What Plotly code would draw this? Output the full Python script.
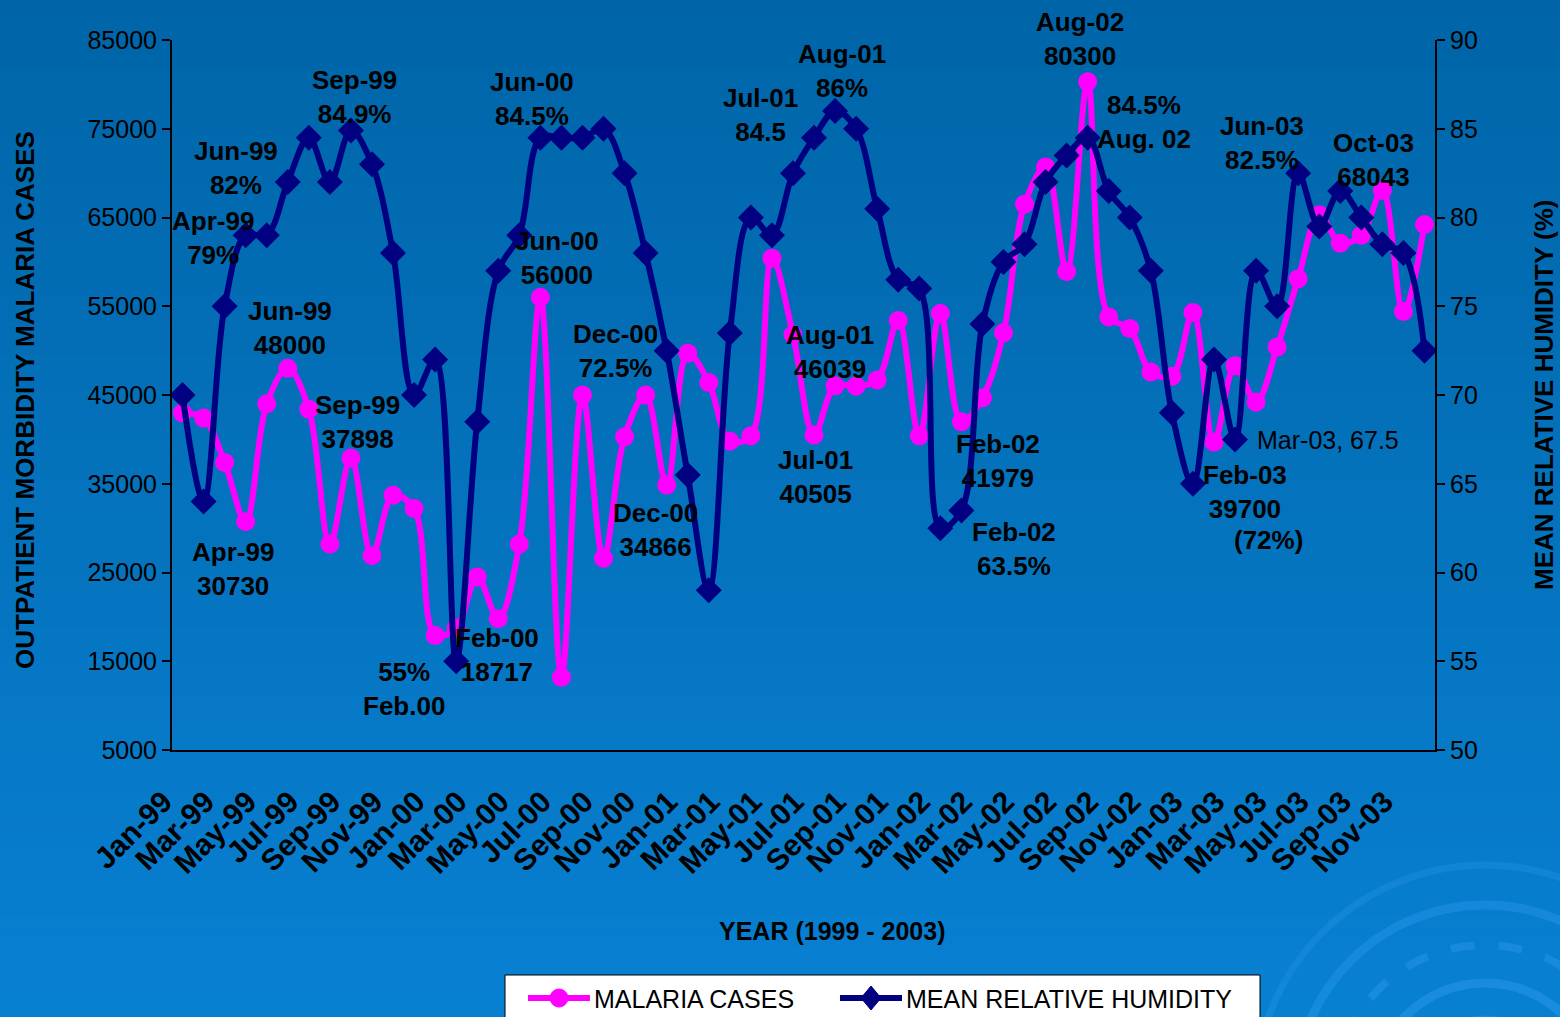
import plotly.graph_objects as go

# ---------------- data ----------------
month_abbr = ["Jan", "Feb", "Mar", "Apr", "May", "Jun", "Jul", "Aug", "Sep", "Oct", "Nov", "Dec"]
year_abbr = ["99", "00", "01", "02", "03"]
month_labels = [f"{m}-{y}" for y in year_abbr for m in month_abbr]
tick_labels = month_labels[::2]

malaria_cases = [
    43000, 42400, 37400, 30730, 44000, 48000, 43400, 28200, 37898, 26900, 33700, 32200,
    17900, 18717, 24500, 19800, 28200, 56000, 13200, 45000, 26600, 40300, 45000, 34866,
    49700, 46400, 39800, 40400, 60400, 51800, 40505, 46039, 46000, 46700, 53400, 40400,
    54200, 41979, 44700, 52000, 66500, 70700, 58900, 80300, 53800, 52500, 47600, 47100,
    54300, 39700, 48300, 44200, 50400, 58100, 65300, 62100, 63000, 68043, 54400, 64200,
]
humidity = [
    70, 64, 75, 79, 79, 82, 84.5, 82, 84.9, 83, 78, 70,
    72, 55, 68.5, 77, 79, 84.5, 84.5, 84.5, 85, 82.5, 78, 72.5,
    65.5, 59, 73.5, 80, 79, 82.5, 84.5, 86, 85, 80.5, 76.5, 76,
    62.5, 63.5, 74, 77.5, 78.5, 82, 83.5, 84.5, 81.5, 80, 77, 69,
    65, 72, 67.5, 77, 75, 82.5, 79.5, 81.5, 80, 78.5, 78, 72.5,
]
left_ticks = [5000, 15000, 25000, 35000, 45000, 55000, 65000, 75000, 85000]
right_ticks = [50, 55, 60, 65, 70, 75, 80, 85, 90]

series_names = ["MALARIA CASES", "MEAN RELATIVE HUMIDITY"]
series_colors = ["#FF00FF", "#000080"]

# point labels: (text, centre x px, centre y px, bold)
point_labels = [
    ("Apr-99<br>79%", 213, 238, True),
    ("Jun-99<br>82%", 236, 168, True),
    ("Sep-99<br>84.9%", 354, 97, True),
    ("Jun-99<br>48000", 290, 328, True),
    ("Sep-99<br>37898", 357, 422, True),
    ("Apr-99<br>30730", 233, 569, True),
    ("55%<br>Feb.00", 404, 689, True),
    ("Feb-00<br>18717", 497, 655, True),
    ("Jun-00<br>84.5%", 532, 99, True),
    ("Jun-00<br>56000", 557, 258, True),
    ("Dec-00<br>72.5%", 615, 351, True),
    ("Dec-00<br>34866", 655, 530, True),
    ("Jul-01<br>84.5", 760, 115, True),
    ("Aug-01<br>86%", 842, 71, True),
    ("Aug-01<br>46039", 830, 352, True),
    ("Jul-01<br>40505", 815, 477, True),
    ("Feb-02<br>41979", 998, 461, True),
    ("Feb-02<br>63.5%", 1014, 549, True),
    ("Aug-02<br>80300", 1080, 39, True),
    ("84.5%<br>Aug. 02", 1144, 122, True),
    ("Jun-03<br>82.5%", 1262, 143, True),
    ("Oct-03<br>68043", 1373, 160, True),
    ("Feb-03<br>39700", 1245, 492, True),
    ("(72%)", 1268, 540, True),
    ("Mar-03, 67.5", 1328, 440, False),
]

# ---------------- geometry ----------------
W, H = 1560, 1017
L, R, T, B = 172, 1435, 40, 750


def pxx(x):
    return (x - L) / (R - L)


def pxy(y):
    return (B - y) / (B - T)


FONT = "Liberation Sans, Arial, sans-serif"

fig = go.Figure()
fig.add_trace(go.Scatter(
    x=month_labels, y=malaria_cases, name=series_names[0],
    mode="lines+markers",
    line=dict(color=series_colors[0], width=6, shape="spline", smoothing=1.0),
    marker=dict(symbol="circle", size=19, color=series_colors[0]),
))
fig.add_trace(go.Scatter(
    x=month_labels, y=humidity, name=series_names[1], yaxis="y2",
    mode="lines+markers",
    line=dict(color=series_colors[1], width=6, shape="spline", smoothing=1.0),
    marker=dict(symbol="diamond", size=20, color=series_colors[1]),
))

# background gradient bands
shapes = []
n_bands = 60
top_c = (0, 101, 168)
bot_c = (8, 128, 210)
for i in range(n_bands):
    t = i / (n_bands - 1)
    c = tuple(round(top_c[k] + (bot_c[k] - top_c[k]) * t) for k in range(3))
    y0 = i * H / n_bands
    y1 = (i + 1) * H / n_bands + 1
    shapes.append(dict(type="rect", xref="paper", yref="paper", layer="below",
                       x0=pxx(-5), x1=pxx(W + 5), y0=pxy(y1), y1=pxy(y0),
                       fillcolor=f"rgb{c}", line=dict(width=0)))

# decorative swirl (bottom right)
cx, cy = 1485, 1095
for r, wdt, dash, op in [(230, 7, "solid", 0.35), (190, 9, "solid", 0.45),
                         (150, 8, "dash", 0.5), (112, 9, "solid", 0.55), (75, 9, "solid", 0.6)]:
    shapes.append(dict(type="circle", xref="paper", yref="paper", layer="below",
                       x0=pxx(cx - r), x1=pxx(cx + r), y0=pxy(cy + r), y1=pxy(cy - r),
                       line=dict(color=f"rgba(40,150,235,{op})", width=wdt, dash=dash)))

# legend box (drawn manually so it can run off the bottom edge like the original)
leg_top, leg_left, leg_right = 975, 505, 1260
leg_y = 998
shapes.append(dict(type="rect", xref="paper", yref="paper", layer="above",
                   x0=pxx(leg_left), x1=pxx(leg_right), y0=pxy(1040), y1=pxy(leg_top),
                   fillcolor="white", line=dict(color="black", width=1)))
leg_items = [(528, 592), (840, 904)]
for k, (lx, tx) in enumerate(leg_items):
    col = series_colors[k]
    shapes.append(dict(type="line", xref="paper", yref="paper", layer="above",
                       x0=pxx(lx), x1=pxx(lx + 62), y0=pxy(leg_y), y1=pxy(leg_y),
                       line=dict(color=col, width=6)))
    mx = lx + 31
    if k == 0:
        shapes.append(dict(type="circle", xref="paper", yref="paper", layer="above",
                           x0=pxx(mx - 9), x1=pxx(mx + 9), y0=pxy(leg_y + 9), y1=pxy(leg_y - 9),
                           fillcolor=col, line=dict(color=col, width=1)))
    else:
        path = (f"M {pxx(mx - 10)} {pxy(leg_y)} L {pxx(mx)} {pxy(leg_y - 12)} "
                f"L {pxx(mx + 10)} {pxy(leg_y)} L {pxx(mx)} {pxy(leg_y + 12)} Z")
        shapes.append(dict(type="path", xref="paper", yref="paper", layer="above", path=path,
                           fillcolor=col, line=dict(color=col, width=1)))

annotations = []
for text, x, y, bold in point_labels:
    annotations.append(dict(
        text=text, x=pxx(x), y=pxy(y), xref="paper", yref="paper",
        xanchor="center", yanchor="middle", showarrow=False, align="center",
        font=dict(family=FONT, size=26 if bold else 25, color="black",
                  weight="bold" if bold else "normal"),
    ))

for k, (lx, tx) in enumerate(leg_items):
    annotations.append(dict(text=series_names[k], x=pxx(tx), y=pxy(leg_y + 1),
                            xref="paper", yref="paper", xanchor="left", yanchor="middle",
                            showarrow=False, font=dict(family=FONT, size=25, color="black")))

annotations += [
    dict(text="OUTPATIENT MORBIDITY MALARIA CASES", x=pxx(25), y=pxy(400), xref="paper", yref="paper",
         textangle=-90, showarrow=False, xanchor="center", yanchor="middle",
         font=dict(family=FONT, size=26, color="black", weight="bold")),
    dict(text="MEAN RELATIVE HUMIDITY (%)", x=pxx(1544), y=pxy(395), xref="paper", yref="paper",
         textangle=-90, showarrow=False, xanchor="center", yanchor="middle",
         font=dict(family=FONT, size=26, color="black", weight="bold")),
    dict(text="YEAR (1999 - 2003)", x=pxx(832), y=pxy(931), xref="paper", yref="paper",
         showarrow=False, xanchor="center", yanchor="middle",
         font=dict(family=FONT, size=25, color="black", weight="bold")),
]

axis_common = dict(showgrid=False, zeroline=False, showline=True, linecolor="black",
                   linewidth=2, automargin=False)

fig.update_layout(
    width=W, height=H,
    margin=dict(l=L, r=W - R, t=T, b=H - B, autoexpand=False),
    paper_bgcolor="rgb(4,114,190)",
    plot_bgcolor="rgba(0,0,0,0)",
    showlegend=False,
    xaxis=dict(type="category", range=[-0.5, len(month_labels) - 0.5],
               tickmode="array", tickvals=tick_labels, ticktext=tick_labels,
               tickangle=-45, ticks="", ticklabelstandoff=20, ticklabelshift=-19,
               tickfont=dict(family=FONT, size=30, color="black", weight="bold"),
               **axis_common),
    yaxis=dict(range=[5000, 85000], tickmode="array", tickvals=left_ticks, tickformat="d",
               ticks="outside", ticklen=8, tickcolor="black", tickwidth=1.5,
               tickfont=dict(family=FONT, size=25, color="black"),
               **axis_common),
    yaxis2=dict(range=[50, 90], tickmode="array", tickvals=right_ticks,
                overlaying="y", side="right",
                ticks="outside", ticklen=8, tickcolor="black", tickwidth=1.5,
                tickfont=dict(family=FONT, size=25, color="black"),
                **axis_common),
    shapes=shapes,
    annotations=annotations,
)

fig.write_html("out.html", config={"displayModeBar": False},
               post_script="document.body.style.margin='0';document.body.style.overflow='hidden';")
